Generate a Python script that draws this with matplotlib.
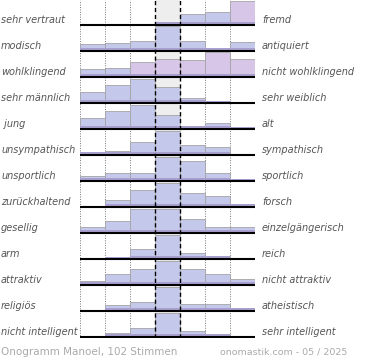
import matplotlib
matplotlib.use("Agg")
import matplotlib.pyplot as plt
import numpy as np

left_labels = ["sehr vertraut", "modisch", "wohlklingend", "sehr männlich", " jung",
               "unsympathisch", "unsportlich", "zurückhaltend", "gesellig", "arm",
               "attraktiv", "religiös", "nicht intelligent"]
right_labels = ["fremd", "antiquiert", "nicht wohlklingend", "sehr weiblich", "alt",
                "sympathisch", "sportlich", "forsch", "einzelgängerisch", "reich",
                "nicht attraktiv", "atheistisch", "sehr intelligent"]

# relative bar heights per row (7 scale steps), max of a row ~ 24
v_vertraut = [0, 1.5, 1.5, 3, 11, 13, 24]
v_modisch = [6.7, 8, 10.3, 25, 10.3, 2.7, 8.7]
v_wohlkl = [8, 9, 15, 18, 17, 25.5, 18]
v_maennl = [11, 17.7, 24, 16, 5, 1.7, 0]
v_jung = [11, 17.7, 24.3, 13.7, 3.3, 6, 1.7]
v_sympath = [2.7, 4, 12.7, 24, 10, 7.7, 1]
v_sport = [5, 8.3, 8.3, 24, 19.7, 8.3, 1.7]
v_forsch = [1.3, 7.3, 17.3, 24, 14, 10.7, 3]
v_gesellig = [6, 11.7, 24, 24.3, 14.5, 5.8, 5.8]
v_arm = [1.3, 2.5, 9.7, 24, 5.7, 3.3, 0]
v_attraktiv = [4.3, 10.7, 15.7, 24, 15.7, 10.7, 6]
v_religioes = [0.7, 6, 9, 24, 7, 6.7, 3.3]
v_intell = [1.3, 4, 9, 24, 5.7, 3.3, 0]

rows = [v_vertraut, v_modisch, v_wohlkl, v_maennl, v_jung, v_sympath, v_sport,
        v_forsch, v_gesellig, v_arm, v_attraktiv, v_religioes, v_intell]

footer_left = "Onogramm Manoel, 102 Stimmen"
footer_right = "onomastik.com - 05 / 2025"

# styling
blue = "#c4c8ea"
pink = "#d8c6e8"
pink_bars = {(0, 6), (2, 2), (2, 3), (2, 4), (2, 5), (2, 6)}
row_h = 26.0
n = len(rows)

W, H = 370, 360
fig = plt.figure(figsize=(W / 100, H / 100), dpi=100)
ax_top_px, ax_bot_px = 0, 338
ax = fig.add_axes([80 / W, 1 - ax_bot_px / H, 175 / W, (ax_bot_px - ax_top_px) / H])
ax.set_xlim(0, 7)
ax.set_ylim(-1, -1 + (ax_bot_px - ax_top_px))
ax.axis("off")

# centre column background
ax.axvspan(3, 4, color="#eeeeee", zorder=0, lw=0)
for xv in [0, 1, 2, 5, 6, 7]:
    ax.axvline(xv, color="#777777", ls=(0, (1, 1.5)), lw=0.7, zorder=1)

x = np.arange(7) + 0.5
for i, vals in enumerate(rows):
    base = (n - 1 - i) * row_h
    cols = [pink if (i, j) in pink_bars else blue for j in range(7)]
    vals = np.array(vals, dtype=float)
    ax.bar(x, vals, width=1.0, bottom=base, color=cols, edgecolor="#a4a4a4",
           linewidth=0.6, zorder=2)
    band = np.minimum(vals, 3.5)
    ax.bar(x, band, width=0.97, bottom=base, color="#aaa0d0", linewidth=0, zorder=2.5)
    band2 = np.minimum(vals, 1.5)
    ax.bar(x, band2, width=0.97, bottom=base, color="#9286c0", linewidth=0, zorder=2.6)
    ax.plot([0, 7], [base, base], color="black", lw=1.5, zorder=4, solid_capstyle="butt")
    # labels
    ypx = (ax_bot_px - 1) - base - 5  # pixel coordinate from top
    fig.text(1 / W, 1 - ypx / H, left_labels[i], ha="left", va="center",
             fontsize=7, style="italic", color="#555555")
    fig.text(262 / W, 1 - ypx / H, right_labels[i], ha="left", va="center",
             fontsize=7, style="italic", color="#555555")

for xv in [3, 4]:
    ax.axvline(xv, color="black", ls=(0, (3, 2)), lw=1.0, zorder=3)

fig.text(1 / W, 1 - 352 / H, footer_left, ha="left", va="center", fontsize=7.5,
         color="#aaaaaa")
fig.text(347 / W, 1 - 352 / H, footer_right, ha="right", va="center", fontsize=6.8,
         color="#aaaaaa")

fig.savefig("out.png", dpi=100)
